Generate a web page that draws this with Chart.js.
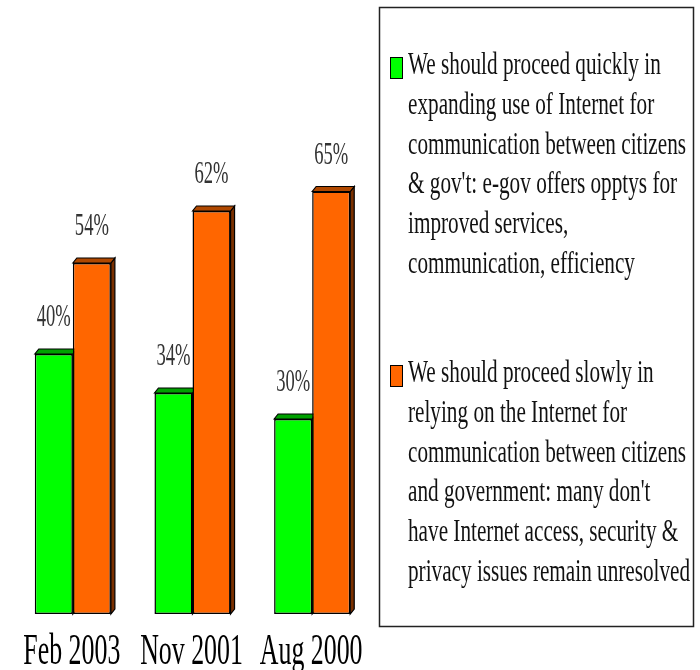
<!DOCTYPE html>
<html>
<head>
<meta charset="utf-8">
<script src="https://cdn.jsdelivr.net/npm/chart.js@4/dist/chart.umd.min.js"></script>
<style>
  html, body { margin: 0; padding: 0; background: #fff; }
  #wrap { width: 700px; height: 670px; }
</style>
</head>
<body>
<div id="wrap"><canvas id="grafica"></canvas></div>
<script>
/* survey dates and percentages */
const fechas = ['Feb 2003', 'Nov 2001', 'Aug 2000'];
const rapido = [40, 34, 30];
const lento  = [54, 62, 65];

/* legend texts, broken in lines as in the original */
const texto_rapido = [
    'We should proceed quickly in',
    'expanding use of Internet for',
    'communication between citizens',
    "& gov't: e-gov offers opptys for",
    'improved services,',
    'communication, efficiency'
];
const texto_lento = [
    'We should proceed slowly in',
    'relying on the Internet for',
    'communication between citizens',
    "and government: many don't",
    'have Internet access, security &',
    'privacy issues remain unresolved'
];

const SERIF = '"Liberation Serif", "DejaVu Serif", serif';

/* face colors for the fake 3d look */
const caras = {
    '#00ff00': { arriba: '#00a000', lado: '#006800' },
    '#ff6600': { arriba: '#b04800', lado: '#7a3000' }
};

/* draws squeezed text (the original is narrow) */
function texto_estrecho(ctx, txt, x, y, escala, align) {
    ctx.save();
    ctx.translate(x, y);
    ctx.scale(escala, 1);
    ctx.textAlign = align;
    ctx.fillText(txt, 0, 0);
    ctx.restore();
}

/* top and side faces, drawn behind the bars */
const barras_3d = {
    id: 'barras_3d',
    beforeDatasetsDraw(chart) {
        const ctx = chart.ctx;
        const dx = 4, dy = 5;
        chart.data.datasets.forEach((ds, i) => {
            const c = caras[ds.backgroundColor];
            chart.getDatasetMeta(i).data.forEach(b => {
                const izq = b.x - b.width / 2, der = b.x + b.width / 2;
                ctx.save();
                ctx.lineWidth = 1.2;
                ctx.strokeStyle = '#000';
                ctx.fillStyle = c.lado;
                ctx.beginPath();
                ctx.moveTo(der, b.y);
                ctx.lineTo(der + dx, b.y - dy);
                ctx.lineTo(der + dx, b.base - dy);
                ctx.lineTo(der, b.base);
                ctx.closePath();
                ctx.fill(); ctx.stroke();
                ctx.fillStyle = c.arriba;
                ctx.beginPath();
                ctx.moveTo(izq, b.y);
                ctx.lineTo(izq + dx, b.y - dy);
                ctx.lineTo(der + dx, b.y - dy);
                ctx.lineTo(der, b.y);
                ctx.closePath();
                ctx.fill(); ctx.stroke();
                ctx.restore();
            });
        });
    },
    afterDatasetsDraw(chart) {
        const ctx = chart.ctx;
        ctx.save();
        /* value labels */
        ctx.font = '31px ' + SERIF;
        ctx.fillStyle = '#333';
        const esc_val = 34 / ctx.measureText('40%').width;
        chart.data.datasets.forEach((ds, i) => {
            chart.getDatasetMeta(i).data.forEach((b, j) => {
                texto_estrecho(ctx, ds.data[j] + '%', b.x, b.y - 28, esc_val, 'center');
            });
        });
        /* category labels */
        ctx.font = '44px ' + SERIF;
        ctx.fillStyle = '#000';
        const esc_cat = 97 / ctx.measureText('Feb 2003').width;
        const eje = chart.scales.x;
        chart.data.labels.forEach((l, j) => {
            texto_estrecho(ctx, l, eje.getPixelForValue(j) - 1, 664, esc_cat, 'center');
        });
        /* legend box */
        ctx.strokeStyle = '#222';
        ctx.lineWidth = 1.5;
        ctx.strokeRect(379.5, 7.5, 314, 619);
        ctx.font = '31px ' + SERIF;
        const esc_ley = 278 / ctx.measureText('communication between citizens').width;
        const inicios = [74, 382];
        chart.data.datasets.forEach((ds, i) => {
            const y0 = inicios[i];
            ctx.fillStyle = ds.backgroundColor;
            ctx.fillRect(390, y0 - 17, 12, 21);
            ctx.strokeStyle = '#000';
            ctx.lineWidth = 1;
            ctx.strokeRect(390.5, y0 - 16.5, 12, 21);
            ctx.fillStyle = '#111';
            ds.label.forEach((linea, k) => {
                texto_estrecho(ctx, linea, 408, y0 + k * 39.8, esc_ley, 'left');
            });
        });
        ctx.restore();
    }
};

new Chart(document.getElementById('grafica'), {
    type: 'bar',
    data: {
        labels: fechas,
        datasets: [
            {
                label: texto_rapido,
                data: rapido,
                backgroundColor: '#00ff00',
                borderColor: '#000',
                borderWidth: 1.5,
                borderSkipped: false
            },
            {
                label: texto_lento,
                data: lento,
                backgroundColor: '#ff6600',
                borderColor: '#000',
                borderWidth: 1.5,
                borderSkipped: false
            }
        ]
    },
    options: {
        responsive: true,
        maintainAspectRatio: false,
        animation: false,
        devicePixelRatio: 1,
        layout: { padding: { left: 13, right: 328, top: 94, bottom: 56 } },
        categoryPercentage: 0.636,
        barPercentage: 1,
        plugins: { legend: { display: false }, tooltip: { enabled: false } },
        scales: {
            x: { display: false },
            y: { display: false, min: 0, max: 80 }
        }
    },
    plugins: [barras_3d]
});
</script>
</body>
</html>
